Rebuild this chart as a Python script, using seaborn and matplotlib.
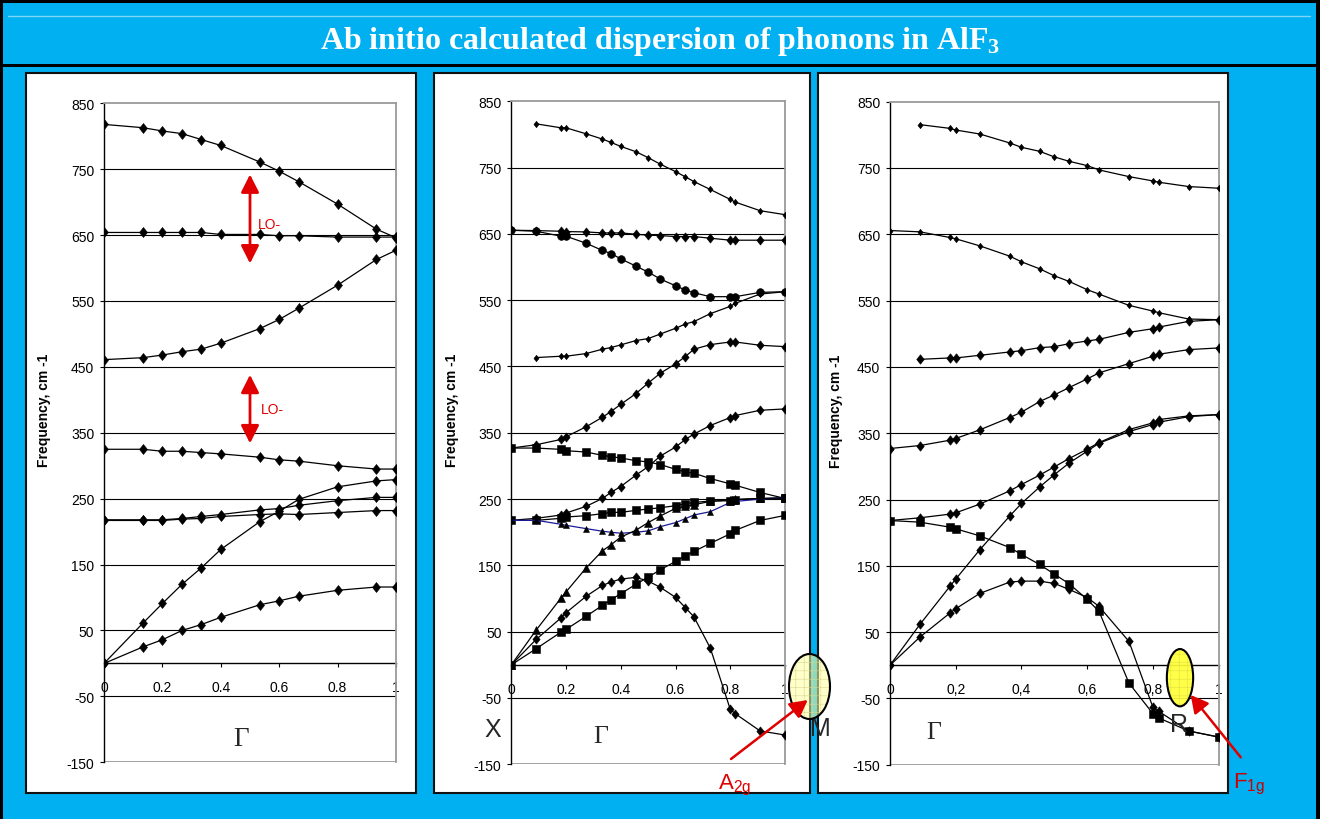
import matplotlib
matplotlib.use("Agg")
import matplotlib.pyplot as plt
from matplotlib.patches import Rectangle, Ellipse, FancyArrowPatch
from matplotlib.lines import Line2D
from matplotlib.path import Path
import seaborn as sns

sns.set_style("white")
plt.rcParams["font.family"] = ["Liberation Sans", "DejaVu Sans"]
plt.rcParams["hatch.linewidth"] = 0.4

# ---------------- left panel (reduced wave vector) ----------------
L_X = [0, 0.133, 0.2, 0.267, 0.333, 0.4, 0.533, 0.6, 0.667, 0.8, 0.933, 1.0]
L_B1 = [818, 813, 808, 804, 795, 786, 761, 747, 731, 697, 659, 646]
L_B2 = [654, 654, 654, 654, 654, 651, 651, 649, 649, 647, 647, 647]
L_B3 = [461, 464, 468, 473, 477, 486, 508, 522, 539, 574, 613, 627]
L_B4 = [325, 325, 322, 322, 320, 318, 313, 309, 307, 300, 295, 295]
L_B5 = [218, 218, 218, 220, 223, 226, 233, 235, 240, 247, 252, 252]
L_B6 = [217, 217, 217, 219, 220, 223, 226, 227, 226, 229, 232, 232]
L_B7 = [0, 61, 91, 120, 145, 173, 215, 231, 249, 268, 277, 279]
L_B8 = [0, 25, 36, 50, 59, 70, 89, 95, 102, 111, 116, 116]

# ---------------- middle panel (X -> M) ----------------
M_X = [0, 0.091, 0.182, 0.2, 0.273, 0.333, 0.364, 0.4, 0.455, 0.5,
       0.545, 0.6, 0.636, 0.667, 0.727, 0.8, 0.818, 0.909, 1.0]
M_B1 = [None, 816, 810, 810, 801, 793, 788, 782, 774, 765, 755, 744, 736, 729, 717, 702, 698, 685, 679]
M_B2 = [655.5, 655, 654, 653.5, 653, 651.5, 651.5, 651.5, 649.5, 648, 647.5, 646, 646, 646, 643.5, 640.5, 640.5, 640.5, 640.5]
M_B3 = [655.5, 654, 646.5, 646.5, 636, 625, 620.4, 612.4, 601.4, 592.4, 581.8, 571.8, 565.3, 561.3, 555.3, 555.3, 555.3, 561.8, 562.8]
M_B4 = [None, 463.5, 465.5, 465.5, 469.5, 476.1, 478.6, 482.6, 489.1, 492.1, 499.1, 507.6, 514.1, 517.7, 529.7, 540.7, 545.2, 559.3, 562.8]
M_B5 = [327, 332, 340, 344, 359, 373.5, 382, 393, 409, 425, 440, 454, 465, 476, 483, 487, 487, 482, 480]
M_B6 = [218, 221, 226, 229, 239, 251, 260, 269, 286, 299, 315, 328.5, 340, 348, 361, 373, 376, 384, 386]
M_B7 = [327, 327, 325, 323, 321, 316, 314, 312, 308, 306, 302, 295, 291, 289, 281, 273, 271, 260, 251]
M_B8 = [218, 218, 221, 223, 225, 228, 230, 230, 233, 235, 237, 240, 243, 245, 247, 247.5, 249, 251, 251]
M_B9 = [218, 218, 212, 210.5, 205.5, 201.5, 200, 198.5, 200, 202, 208.5, 214.5, 220.5, 226, 231, 245, 246.5, 250, 252.5]
M_B10 = [0, 52.5, 101, 110, 146, 172, 181, 192.7, 203, 214.6, 224.7, 236, 239, 241.5, 246.5, 249, 249.5, 251, 252]
M_B11 = [0, 38.4, 71, 78.6, 103.3, 119.8, 124.9, 129.4, 131.9, 126.4, 116.8, 101.8, 86.2, 72.6, 25.4, -67.1, -73.6, -99.7, -105.8]
M_B12 = [0, 24.4, 49.5, 53.5, 73.1, 89.7, 98.2, 107.3, 121.4, 132.4, 143.5, 156, 164.6, 171.1, 183.2, 197.7, 202.8, 217.8, 225.4]

# ---------------- right panel (-> R) ----------------
R_X = [0, 0.091, 0.182, 0.2, 0.273, 0.364, 0.4, 0.455, 0.5, 0.545,
       0.6, 0.636, 0.727, 0.8, 0.818, 0.909, 1.0]
R_B1 = [None, 815.4, 809.8, 807.3, 801.3, 787.8, 781.2, 775.2, 766.7, 760.1, 753.6, 747.1, 737, 730.5, 728.5, 722, 719.5]
R_B2 = [655.7, 653.7, 645.2, 643.2, 632.6, 617.1, 608.5, 598, 587.4, 578.9, 566.4, 559.8, 542.8, 534.2, 531.7, 522.2, 521.2]
R_B3 = [None, 461.4, 463.5, 463.5, 467.5, 472.5, 474.5, 479, 480.5, 485, 489.1, 491.6, 502.1, 507.6, 510.1, 518.7, 521.2]
R_B4 = [326.9, 331.4, 339.4, 342, 355, 373.6, 381.7, 397.7, 407.8, 418.8, 431.9, 441, 455, 466.1, 469.1, 476.1, 478.6]
R_B5 = [218.3, 222.4, 227.9, 229.9, 243, 263, 272.6, 286.7, 299.2, 311.8, 325.9, 335.9, 355.5, 365.6, 370.6, 376.1, 378.1]
R_B6 = [0, 61.6, 118.8, 129.9, 174.1, 224.9, 244, 268.8, 287.5, 305, 322.9, 334.9, 352.5, 363.1, 366.6, 375, 378]
R_B7 = [218.3, 215.8, 208.3, 205.8, 195.2, 177.6, 167.1, 152, 137.4, 122.9, 99.2, 81.2, -26.9, -73.1, -79.6, -99.2, -108.3]
R_B8 = [0, 42.5, 78.6, 85.2, 108.3, 125.4, 126.9, 126.9, 123.4, 114.3, 102.3, 88.7, 35.9, -63.6, -69.6, -99.2, -108.3]

Y_TICKS = [-150, -50, 50, 150, 250, 350, 450, 550, 650, 750, 850]
X_TICKS = [0, 0.2, 0.4, 0.6, 0.8, 1.0]
X_LABELS_DOT = ["0", "0.2", "0.4", "0.6", "0.8", "1"]
X_LABELS_COMMA = ["0", "0,2", "0,4", "0,6", "0,8", "1"]
Y_LABEL = "Frequency, cm -1"

BLUE = "#00B0F0"
RED = "#E00000"
W, H = 1320, 820

# Excel-like diamond (slightly taller than wide)
DIAMOND = Path([(0, 1), (0.8, 0), (0, -1), (-0.8, 0), (0, 1)],
               [Path.MOVETO, Path.LINETO, Path.LINETO, Path.LINETO, Path.CLOSEPOLY])


def fx(px):
    return px / W


def fy(py):
    return 1 - py / H


def draw_branch(ax, xs, ys, marker, ms, line_color="black"):
    pts = [(x, y) for x, y in zip(xs, ys) if y is not None]
    bx = [p[0] for p in pts]
    by = [p[1] for p in pts]
    sns.lineplot(x=bx, y=by, ax=ax, color=line_color, linewidth=0.9,
                 marker=marker, markersize=ms, markerfacecolor="black",
                 markeredgecolor="black", markeredgewidth=0.4,
                 estimator=None, sort=False, legend=False, zorder=3)


def style_axes(ax, xlabels, ylabel_x):
    ax.set_xlim(0, 1)
    ax.set_ylim(-150, 850)
    ax.set_facecolor("white")
    for v in Y_TICKS[1:-1]:
        ax.axhline(v, color="black", lw=0.8, zorder=1)
    ax.axhline(-150, color="#9a9a9a", lw=1.3, zorder=1)
    ax.spines["left"].set_color("black")
    ax.spines["left"].set_linewidth(1.0)
    ax.spines["bottom"].set_position(("data", 0))
    ax.spines["bottom"].set_color("black")
    ax.spines["bottom"].set_linewidth(1.0)
    ax.spines["bottom"].set_zorder(2)
    for s in ("top", "right"):
        ax.spines[s].set_visible(True)
        ax.spines[s].set_color("#9a9a9a")
        ax.spines[s].set_linewidth(1.3)
    ax.set_yticks(Y_TICKS)
    ax.set_yticklabels([str(v) for v in Y_TICKS])
    ax.set_xticks(X_TICKS)
    ax.set_xticklabels(xlabels)
    ax.tick_params(axis="y", left=True, direction="out", length=3, width=0.8,
                   pad=4, labelsize=10, colors="black")
    ax.tick_params(axis="x", bottom=True, direction="out", length=3, width=0.8,
                   pad=9, labelsize=10, colors="black")
    ax.set_xlabel("")
    ax.set_ylabel(Y_LABEL, fontsize=10, fontweight="bold", color="black")
    ax.yaxis.set_label_coords(ylabel_x, 0.535)


fig = plt.figure(figsize=(13.2, 8.2), dpi=100, facecolor=BLUE)

# header bar and frame
fig.patches.append(Rectangle((0, fy(4)), 1, 4 / H, transform=fig.transFigure,
                             facecolor="black", edgecolor="none", zorder=-2))
fig.patches.append(Rectangle((0, fy(68)), 1, 3 / H, transform=fig.transFigure,
                             facecolor="black", edgecolor="none", zorder=-2))
fig.patches.append(Rectangle((0, 0), 3 / W, 1, transform=fig.transFigure,
                             facecolor="black", edgecolor="none", zorder=-2))
fig.patches.append(Rectangle((1 - 4 / W, 0), 4 / W, 1, transform=fig.transFigure,
                             facecolor="black", edgecolor="none", zorder=-2))
fig.lines.append(Line2D([fx(8), fx(1310)], [fy(17), fy(17)], transform=fig.transFigure,
                        color="#7FD5F5", lw=1.0, zorder=-2))
fig.text(0.5, fy(49), r"Ab initio calculated dispersion of phonons in AlF$\mathregular{_3}$",
         ha="center", va="baseline", color="white", fontsize=23, fontweight="bold",
         family="Liberation Serif")

# white panel cards
for x0, x1 in ((26, 416), (434, 810), (818, 1228)):
    fig.patches.append(Rectangle((fx(x0), fy(794)), (x1 - x0) / W, (794 - 74) / H,
                                 transform=fig.transFigure, facecolor="white",
                                 edgecolor="#111111", lw=1.5, zorder=-1))

ax1 = fig.add_axes([fx(104), fy(763.3), 292 / W, 659 / H])
ax2 = fig.add_axes([fx(511.3), fy(765.3), 273.7 / W, 663 / H])
ax3 = fig.add_axes([fx(890), fy(765.7), 328.7 / W, 663 / H])

# left panel
for ys in (L_B1, L_B2, L_B3, L_B4, L_B5, L_B6, L_B7, L_B8):
    draw_branch(ax1, L_X, ys, DIAMOND, 7.2)
style_axes(ax1, X_LABELS_DOT, -0.18)

# middle panel
draw_branch(ax2, M_X, M_B1, DIAMOND, 4.6)
draw_branch(ax2, M_X, M_B2, DIAMOND, 6.6)
draw_branch(ax2, M_X, M_B3, "o", 5.6)
draw_branch(ax2, M_X, M_B4, DIAMOND, 4.6)
draw_branch(ax2, M_X, M_B5, DIAMOND, 6.6)
draw_branch(ax2, M_X, M_B6, DIAMOND, 6.6)
draw_branch(ax2, M_X, M_B7, "s", 5.4)
draw_branch(ax2, M_X, M_B8, "s", 5.4)
draw_branch(ax2, M_X, M_B9, "^", 4.2, line_color="#1A1A9A")
draw_branch(ax2, M_X, M_B10, "^", 6.2)
draw_branch(ax2, M_X, M_B11, DIAMOND, 6.6)
draw_branch(ax2, M_X, M_B12, "s", 5.4)
style_axes(ax2, X_LABELS_DOT, -0.19)

# right panel
draw_branch(ax3, R_X, R_B1, DIAMOND, 4.6)
draw_branch(ax3, R_X, R_B2, DIAMOND, 4.6)
for ys in (R_B3, R_B4, R_B5, R_B6, R_B8):
    draw_branch(ax3, R_X, ys, DIAMOND, 6.8)
draw_branch(ax3, R_X, R_B7, "s", 5.8)
style_axes(ax3, X_LABELS_COMMA, -0.143)

# LO splitting arrows
for y_top, y_bot in ((742, 607), (438, 334)):
    ax1.annotate("", xy=(0.5, y_bot), xytext=(0.5, y_top),
                 arrowprops=dict(arrowstyle="<|-|>,head_length=0.77,head_width=0.39",
                                 color=RED, lw=2.0, mutation_scale=14,
                                 shrinkA=0, shrinkB=0), zorder=4)
fig.text(fx(258), fy(229), "LO-", color=RED, fontsize=10, ha="left", va="baseline")
fig.text(fx(261), fy(414), "LO-", color=RED, fontsize=10, ha="left", va="baseline")

# zone-boundary letters
fig.text(fx(241), fy(746), "Γ", family="Liberation Serif", fontsize=19.5, ha="center", va="baseline")
fig.text(fx(492.5), fy(737), "X", fontsize=18, ha="center", va="baseline")
fig.text(fx(601), fy(743), "Γ", family="Liberation Serif", fontsize=18.5, ha="center", va="baseline")
fig.text(fx(820.5), fy(736), "M", fontsize=18, ha="center", va="baseline", zorder=3)
fig.text(fx(933.5), fy(739), "Γ", family="Liberation Serif", fontsize=18.5, ha="center", va="baseline")
fig.text(fx(1179.5), fy(732), "R", fontsize=18, ha="center", va="baseline", zorder=3)

# highlighted soft modes
for (cx, cy, ew, eh, fc, hc) in ((809.5, 687.5, 41, 65, (1.0, 1.0, 0.62, 0.55), "#D8D890"),
                                 (1180, 678.7, 26.3, 57.3, (1.0, 1.0, 0.22, 0.92), "#E0E040")):
    fig.patches.append(Ellipse((fx(cx), fy(cy)), ew / W, eh / H, transform=fig.transFigure,
                               facecolor=fc, edgecolor=hc, hatch="++", lw=0, zorder=5))
    fig.patches.append(Ellipse((fx(cx), fy(cy)), ew / W, eh / H, transform=fig.transFigure,
                               facecolor="none", edgecolor="black", lw=1.5, zorder=6))

for (x0, y0, x1, y1) in ((731, 760, 807.7, 701), (1240.7, 758.3, 1190.7, 696)):
    fig.patches.append(FancyArrowPatch((fx(x0), fy(y0)), (fx(x1), fy(y1)),
                                       transform=fig.transFigure,
                                       arrowstyle="-|>,head_length=0.75,head_width=0.4",
                                       mutation_scale=14, color=RED, lw=1.8,
                                       shrinkA=0, shrinkB=0, zorder=7))

fig.text(fx(718), fy(789), r"A$\mathregular{_{2g}}$", color=RED, fontsize=16,
         ha="left", va="baseline")
fig.text(fx(1233), fy(788), r"F$\mathregular{_{1g}}$", color="#CC0000", fontsize=16,
         ha="left", va="baseline")

fig.savefig("out.png", dpi=100, facecolor=BLUE)
